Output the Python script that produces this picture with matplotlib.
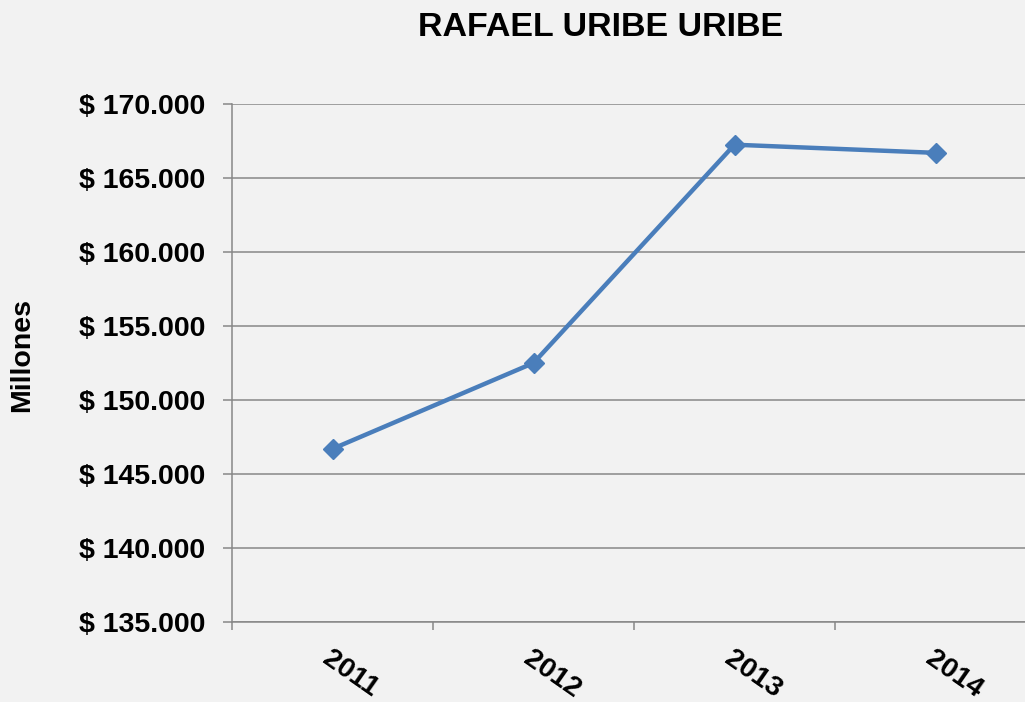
import numpy as np
import matplotlib
matplotlib.use("Agg")
import matplotlib.pyplot as plt
from matplotlib.ticker import FuncFormatter, MultipleLocator

years = ["2011", "2012", "2013", "2014"]
values = [146700, 152500, 167250, 166700]
title = "RAFAEL URIBE URIBE"
ylabel = "Millones"

plt.rcParams['font.family'] = ['Liberation Sans', 'DejaVu Sans']
plt.rcParams['font.weight'] = 'bold'

bg = '#f2f2f2'
grid_col = '#878787'
line_col = '#4a7ebb'

fig = plt.figure(figsize=(10.25, 7.02), dpi=100, facecolor=bg)
ax = fig.add_axes([232/1025, 1-622/702, (1036-232)/1025, (622-104)/702])
ax.set_facecolor(bg)

x = np.arange(len(years))
ax.plot(x, values, color=line_col, lw=3.2, marker='D', markersize=10,
        markerfacecolor=line_col, markeredgecolor=line_col, zorder=3)

ax.set_xlim(-0.5, len(years) - 0.5)
ax.set_ylim(135000, 170000)
ax.yaxis.set_major_locator(MultipleLocator(5000))
ax.yaxis.set_major_formatter(FuncFormatter(lambda v, p: "$ " + f"{int(v):,}".replace(",", ".")))
ax.grid(axis='y', color=grid_col, lw=1.1)
ax.set_axisbelow(True)

for s in ['top', 'right']:
    ax.spines[s].set_visible(False)
for s in ['left', 'bottom']:
    ax.spines[s].set_color(grid_col)
    ax.spines[s].set_linewidth(1.1)

# tick marks between categories, labels at categories
ax.set_xticks(x - 0.5, minor=True)
ax.set_xticks(x)
ax.set_xticklabels(years, rotation=-35, ha='left', va='top', rotation_mode='anchor',
                   fontsize=20.5, fontweight='bold')
for lab in ax.get_xticklabels():
    lab.set_x(lab.get_position()[0])
ax.tick_params(axis='x', which='major', length=0, pad=17)
ax.tick_params(axis='x', which='minor', length=6, width=1.1, color=grid_col)
ax.tick_params(axis='y', length=6.5, width=1.1, color=grid_col, pad=13, labelsize=20.5)
for lab in ax.get_yticklabels():
    lab.set_fontweight('bold')

fig.text(601/1025, 1-27/702, title, ha='center', va='center', fontsize=24.5, fontweight='bold')
fig.text(22/1025, 1-355/702, ylabel, ha='center', va='center', rotation=90,
         fontsize=20.5, fontweight='bold')

fig.savefig("out.png", dpi=100, facecolor=bg)
